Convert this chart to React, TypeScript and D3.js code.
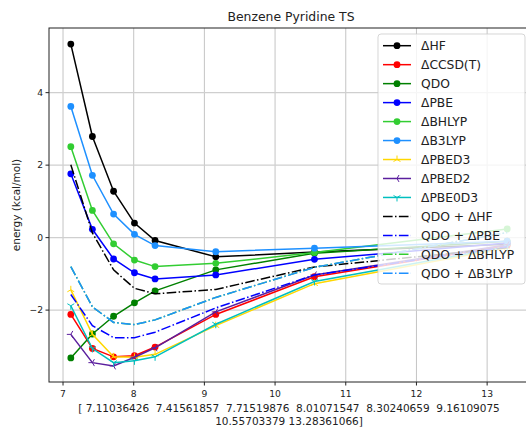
import React from 'react';
import * as d3 from 'd3';

// separations (x values printed under the axis)
const distances = [7.11036426, 7.41561857, 7.71519876, 8.01071547, 8.30240659, 9.16109075, 10.55703379, 13.28361066];

// energies in kcal/mol
const dHF = [5.34, 2.79, 1.28, 0.40, -0.08, -0.53, -0.40, -0.18];
const dCCSDT = [-2.12, -3.06, -3.29, -3.26, -3.02, -2.12, -1.08, -0.22];
const qdo = [-3.32, -2.66, -2.17, -1.80, -1.47, -0.89, -0.43, -0.10];
const dPBE = [1.76, 0.23, -0.59, -0.97, -1.14, -1.03, -0.60, -0.15];
const dBHLYP = [2.51, 0.75, -0.17, -0.62, -0.80, -0.71, -0.41, 0.24];
const dB3LYP = [3.62, 1.72, 0.65, 0.09, -0.22, -0.39, -0.29, -0.10];
const dPBED3 = [-1.44, -2.67, -3.29, -3.30, -3.22, -2.43, -1.27, -0.28];
const dPBED2 = [-2.67, -3.45, -3.54, -3.30, -3.04, -2.05, -1.03, -0.20];
const dPBE0D3 = [-1.88, -3.06, -3.45, -3.40, -3.29, -2.39, -1.21, -0.25];
const qdoHF = [2.01, 0.13, -0.89, -1.40, -1.55, -1.43, -0.81, -0.28];
const qdoPBE = [-1.57, -2.43, -2.76, -2.76, -2.61, -1.94, -1.03, -0.25];
const qdoBHLYP = [-0.80, -1.91, -2.34, -2.40, -2.27, -1.65, -0.82, 0.14];
const qdoB3LYP = [-0.80, -1.91, -2.34, -2.40, -2.27, -1.65, -0.82, 0.14];

const xTicks = [7, 8, 9, 10, 11, 12, 13];
const yTicks = [-2, 0, 2, 4];

type Series = { label: string; values: number[]; color: string; marker: string; dash?: string };

const series: Series[] = [
  { label: 'ΔHF', values: dHF, color: '#000000', marker: 'o' },
  { label: 'ΔCCSD(T)', values: dCCSDT, color: '#ff0000', marker: 'o' },
  { label: 'QDO', values: qdo, color: '#008000', marker: 'o' },
  { label: 'ΔPBE', values: dPBE, color: '#0000ff', marker: 'o' },
  { label: 'ΔBHLYP', values: dBHLYP, color: '#32cd32', marker: 'o' },
  { label: 'ΔB3LYP', values: dB3LYP, color: '#1e90ff', marker: 'o' },
  { label: 'ΔPBED3', values: dPBED3, color: '#ffd700', marker: '2' },
  { label: 'ΔPBED2', values: dPBED2, color: '#5b1f9e', marker: '3' },
  { label: 'ΔPBE0D3', values: dPBE0D3, color: '#00bfbf', marker: '1' },
  { label: 'QDO + ΔHF', values: qdoHF, color: '#000000', marker: '', dash: '9.6,2.4,1.5,2.4' },
  { label: 'QDO + ΔPBE', values: qdoPBE, color: '#0000ff', marker: '', dash: '9.6,2.4,1.5,2.4' },
  { label: 'QDO + ΔBHLYP', values: qdoBHLYP, color: '#32cd32', marker: '', dash: '9.6,2.4,1.5,2.4' },
  { label: 'QDO + ΔB3LYP', values: qdoB3LYP, color: '#1e90ff', marker: '', dash: '9.6,2.4,1.5,2.4' },
];

const W = 526;
const H = 427;
const plot = { left: 49, right: 529, top: 28, bottom: 382 };
const font = 'DejaVu Sans, sans-serif';

// tri markers like matplotlib '1','2','3','4'
const triPath = (m: string, r: number) => {
  const arms: Record<string, number[]> = { '1': [90, 210, 330], '2': [270, 30, 150], '3': [180, 300, 60], '4': [0, 120, 240] };
  return arms[m].map(a => {
    const t = (a * Math.PI) / 180;
    return `M0,0L${(r * Math.cos(t)).toFixed(2)},${(r * Math.sin(t)).toFixed(2)}`;
  }).join('');
};

const Marker = ({ m, color, x, y }: { m: string; color: string; x: number; y: number }) => {
  if (!m) return null;
  if (m === 'o') return <circle cx={x} cy={y} r={3.4} fill={color} />;
  return <path d={triPath(m, 4)} transform={`translate(${x},${y})`} stroke={color} strokeWidth={1} fill="none" />;
};

const App = () => {
  const [x0, x1] = d3.extent(distances) as [number, number];
  const all = series.flatMap(s => s.values);
  const [y0, y1] = d3.extent(all) as [number, number];
  const xPad = (x1 - x0) * 0.05;
  const yPad = (y1 - y0) * 0.05;

  const x = d3.scaleLinear().domain([x0 - xPad, x1 + xPad]).range([plot.left, plot.right]);
  const y = d3.scaleLinear().domain([y0 - yPad, y1 + yPad]).range([plot.bottom, plot.top]);

  const line = d3.line<number>().x((_, i) => x(distances[i])).y(d => y(d));

  const legX = 378;
  const legY = 34;
  const legW = 147;
  const rowH = 18.97;

  return (
    <svg width={W} height={H} style={{ position: 'absolute', left: 0, top: 0, background: '#fff' }}>
      <text x={291} y={21} textAnchor="middle" fontFamily={font} fontSize={12.4} fill="#222">
        Benzene Pyridine TS
      </text>

      {/* grid */}
      {xTicks.map(t => (
        <line key={'gx' + t} x1={x(t)} x2={x(t)} y1={plot.top} y2={plot.bottom} stroke="#c4c4c4" strokeWidth={1} />
      ))}
      {yTicks.map(t => (
        <line key={'gy' + t} x1={plot.left} x2={plot.right} y1={y(t)} y2={y(t)} stroke="#cfcfcf" strokeWidth={1.2} />
      ))}

      {/* series */}
      {series.map(s => (
        <g key={s.label}>
          <path d={line(s.values) || ''} fill="none" stroke={s.color} strokeWidth={1.5} strokeDasharray={s.dash} />
          {s.values.map((v, i) => (
            <Marker key={i} m={s.marker} color={s.color} x={x(distances[i])} y={y(v)} />
          ))}
        </g>
      ))}

      {/* frame */}
      <rect x={plot.left} y={plot.top} width={plot.right - plot.left} height={plot.bottom - plot.top} fill="none" stroke="#222" strokeWidth={1} />

      {/* ticks */}
      {xTicks.map(t => (
        <g key={'tx' + t}>
          <line x1={x(t)} x2={x(t)} y1={plot.bottom} y2={plot.bottom + 3.5} stroke="#222" />
          <text x={x(t)} y={plot.bottom + 15} textAnchor="middle" fontFamily={font} fontSize={9.2} fill="#222">{t}</text>
        </g>
      ))}
      {yTicks.map(t => (
        <g key={'ty' + t}>
          <line x1={plot.left - 3.5} x2={plot.left} y1={y(t)} y2={y(t)} stroke="#222" />
          <text x={plot.left - 6} y={y(t)} dy="0.35em" textAnchor="end" fontFamily={font} fontSize={9.2} fill="#222">
            {t < 0 ? '\u2212' + Math.abs(t) : t}
          </text>
        </g>
      ))}

      {/* axis labels */}
      <text x={(plot.left + plot.right) / 2} y={412} textAnchor="middle" fontFamily={font} fontSize={10.5} fill="#222" style={{ whiteSpace: 'pre' }}>
        {'[ ' + distances.slice(0, 6).map(d => d.toFixed(8)).join('  ')}
      </text>
      <text x={(plot.left + plot.right) / 2} y={425} textAnchor="middle" fontFamily={font} fontSize={10.5} fill="#222" style={{ whiteSpace: 'pre' }}>
        {distances.slice(6).map(d => d.toFixed(8)).join(' ') + ']'}
      </text>
      <text transform={`translate(20,${(plot.top + plot.bottom) / 2}) rotate(-90)`} textAnchor="middle" fontFamily={font} fontSize={10.5} fill="#222">
        energy (kcal/mol)
      </text>

      {/* legend */}
      <rect x={legX} y={legY} width={legW} height={250} rx={3} fill="#fff" fillOpacity={0.8} stroke="#cccccc" strokeOpacity={0.8} />
      {series.map((s, i) => {
        const ly = legY + 11.7 + i * rowH;
        return (
          <g key={'lg' + s.label}>
            <line x1={383} x2={411} y1={ly} y2={ly} stroke={s.color} strokeWidth={1.5} strokeDasharray={s.dash} />
            <Marker m={s.marker} color={s.color} x={397} y={ly} />
            <text x={421} y={ly} dy="0.36em" fontFamily={font} fontSize={12.3} fill="#222">{s.label}</text>
          </g>
        );
      })}
    </svg>
  );
};

export default App;
